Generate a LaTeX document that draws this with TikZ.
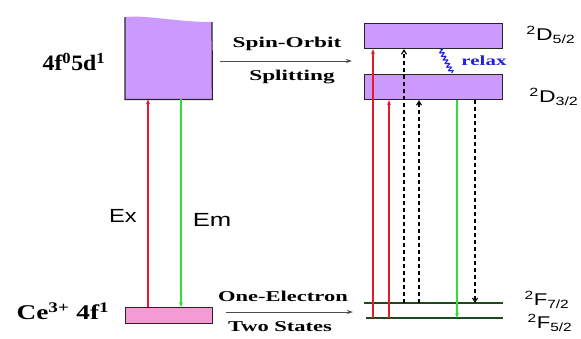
\documentclass[tikz,border=0pt]{standalone}
\usepackage{fontspec}
\usepackage{graphicx}
\setmainfont{Liberation Serif}
\setsansfont{Liberation Sans}
\usetikzlibrary{arrows.meta,decorations.pathmorphing}
\definecolor{lvl}{HTML}{CC99FF}
\definecolor{pinkl}{HTML}{F59AD2}
\definecolor{exred}{HTML}{E8192C}
\definecolor{emgreen}{HTML}{33DD33}
\definecolor{fline}{HTML}{1F4A1F}
\definecolor{relaxblue}{HTML}{2222DD}
\newcommand{\widetxt}[2]{\scalebox{#1}[1]{#2}}
\begin{document}
\begin{tikzpicture}[x=1pt,y=-1pt,
  levelbox/.style={fill=lvl,draw=black!85,line width=1.2pt,inner sep=0pt,anchor=north west},
  exarrow/.style={draw=exred,line width=1.1pt,-{Stealth[length=5pt,width=4pt]}},
  emarrow/.style={draw=emgreen,line width=1.1pt,-{Stealth[length=5pt,width=4pt]}},
  darrow/.style={draw=black,line width=1.1pt,dash pattern=on 4pt off 3pt,-{Straight Barb[length=4pt,width=5pt]}},
  procarrow/.style={draw=black!70,line width=1pt,-{Stealth[length=6pt,width=4pt]}},
  flevel/.style={draw=fline,line width=1.6pt},
  serifb/.style={font=\fontsize{15}{17}\selectfont\bfseries,inner sep=0pt},
  statelbl/.style={font=\sffamily\fontsize{17}{19}\selectfont,inner sep=0pt}
]
\useasboundingbox (0,0) rectangle (581,338);

% left upper box (wavy top)
\fill[lvl] (125,99) -- (125,17) .. controls (150,15) and (175,22) .. (212,22) -- (212,99) -- cycle;
\node[minimum width=87pt,minimum height=77pt,inner sep=0pt,anchor=north west] (ex) at (125,22) {};
\draw[black!85,line width=1.2pt] (125,17) -- (ex.south west) -- (ex.south east) -- (212,22);

% left lower box
\node[fill=pinkl,draw=black!85,line width=1.2pt,inner sep=0pt,minimum width=87pt,minimum height=16pt,anchor=north west] (gs) at (125,307) {};

% left labels
\node[font=\fontsize{22}{24}\selectfont\bfseries,inner sep=0pt] (l5d) at (74,62) {\widetxt{1.08}{4f\textsuperscript{0}5d\textsuperscript{1}}};
\node[font=\fontsize{21}{23}\selectfont\bfseries,inner sep=0pt] (l4f) at (63,311) {\widetxt{1.3}{Ce\textsuperscript{3+} 4f\textsuperscript{1}}};

% Ex / Em
\coordinate (cex) at (148,0);
\coordinate (cem) at (181,0);
\draw[exarrow] (cex |- gs.north) -- (cex |- ex.south);
\draw[emarrow] (cem |- ex.south) -- (cem |- gs.north);
\node[font=\sffamily\fontsize{19}{21}\selectfont,inner sep=0pt] (lex) at (123,216) {\widetxt{1.25}{Ex}};
\node[font=\sffamily\fontsize{19}{21}\selectfont,inner sep=0pt] (lem) at (212,220) {\widetxt{1.35}{Em}};

% process arrows
\coordinate (so1) at (220,61);
\coordinate (so2) at (352,61);
\draw[procarrow] (so1) -- (so2);
\node[serifb] (tso) at (287,44) {\widetxt{1.55}{Spin-Orbit}};
\node[serifb] (tsp) at (292,77) {\widetxt{1.55}{Splitting}};
\coordinate (oe1) at (226,312);
\coordinate (oe2) at (353,312);
\draw[procarrow] (oe1) -- (oe2);
\node[serifb] (toe) at (283,296) {\widetxt{1.5}{One-Electron}};
\node[serifb] (tts) at (280,327) {\widetxt{1.5}{Two States}};

% right boxes
\node[levelbox,minimum width=138pt,minimum height=25pt] (d52) at (364,23) {};
\node[levelbox,minimum width=138pt,minimum height=25pt] (d32) at (364,74) {};

% F levels
\coordinate (f72w) at (364,303);
\coordinate (f72e) at (503,303);
\coordinate (f52w) at (366,318);
\coordinate (f52e) at (503,318);
\draw[flevel] (f72w) -- (f72e);
\draw[flevel] (f52w) -- (f52e);

% columns
\coordinate (r1) at (373,0);
\coordinate (r2) at (389,0);
\coordinate (k1) at (404,0);
\coordinate (k2) at (419,0);
\coordinate (g1) at (457,0);
\coordinate (k3) at (475,0);
\draw[exarrow] (r1 |- f52w) -- (r1 |- d52.south);
\draw[exarrow] (r2 |- f52w) -- (r2 |- d32.south);
\draw[darrow] (k1 |- f72w) -- (k1 |- d52.south);
\draw[darrow] (k2 |- f72w) -- (k2 |- d32.south);
\draw[emarrow] (g1 |- d32.south) -- (g1 |- f52w);
\draw[darrow] (k3 |- d32.south) -- (k3 |- f72w);

% relax
\coordinate (rx1) at (440,49);
\coordinate (rx2) at (452,73);
\draw[relaxblue,line width=1.1pt,decorate,decoration={snake,amplitude=2pt,segment length=4pt}] (rx1) -- (rx2);
\node[font=\fontsize{14}{16}\selectfont\bfseries,text=relaxblue,inner sep=0pt] (trx) at (484,61) {\widetxt{1.5}{relax}};

% state labels
\node[statelbl] (ld52) at (551,35) {\widetxt{1.35}{\textsuperscript{2}D\textsubscript{5/2}}};
\node[statelbl] (ld32) at (554,97) {\widetxt{1.35}{\textsuperscript{2}D\textsubscript{3/2}}};
\node[statelbl] (lf72) at (547,300) {\widetxt{1.3}{\textsuperscript{2}F\textsubscript{7/2}}};
\node[statelbl] (lf52) at (550,323) {\widetxt{1.3}{\textsuperscript{2}F\textsubscript{5/2}}};
\end{tikzpicture}
\end{document}
